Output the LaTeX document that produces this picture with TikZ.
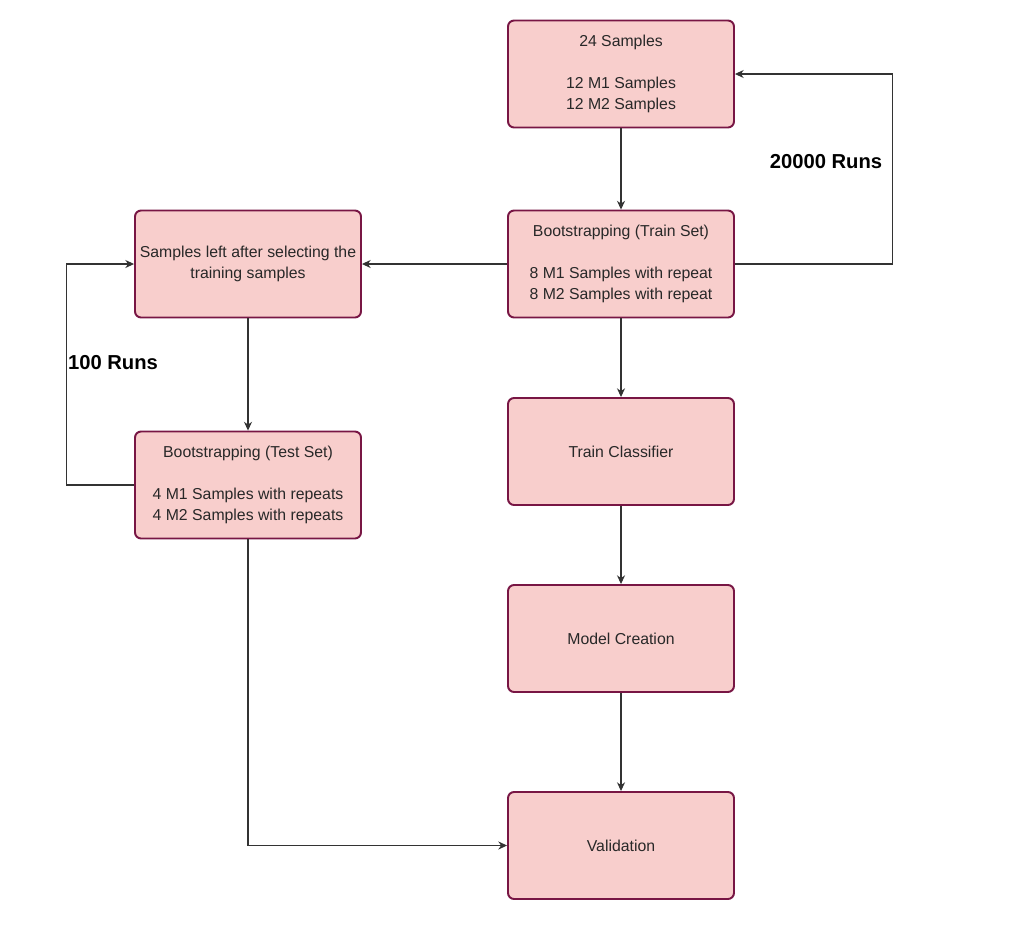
\documentclass[tikz,border=0pt]{standalone}
\usepackage{fontspec}
\setmainfont{Liberation Sans}
\usepackage{tikz}
\usetikzlibrary{arrows.meta}
\definecolor{boxfill}{RGB}{248,206,204}
\definecolor{boxline}{RGB}{120,22,68}
\definecolor{txt}{RGB}{40,40,40}
\tikzset{
 stagebox/.style={draw=boxline, fill=boxfill, line width=1.1pt, rounded corners=0.12cm,
   minimum width=4.52cm, minimum height=2.14cm, inner sep=0pt, align=center,
   text=txt, font=\fontsize{9}{11.9}\selectfont},
 runlabel/.style={font=\fontsize{11.5}{13}\selectfont\bfseries, text=black},
 link/.style={black!80, line width=0.6pt, -{Stealth[length=5pt,width=4.6pt]}}
}

\begin{document}
\begin{tikzpicture}[x=0.02cm, y=-0.02cm]
\useasboundingbox (0,0) rectangle (1011,927);
\node[stagebox] (samples) at (621,74) {24 Samples\\ \\12 M1 Samples\\12 M2 Samples};
\node[stagebox] (trainboot) at (621,264) {Bootstrapping (Train Set)\\ \\8 M1 Samples with repeat\\8 M2 Samples with repeat};
\node[stagebox] (leftover) at (248,264) {Samples left after selecting the\\training samples};
\node[stagebox] (testboot) at (248,485) {Bootstrapping (Test Set)\\ \\4 M1 Samples with repeats\\4 M2 Samples with repeats};
\node[stagebox] (classifier) at (621,451.5) {Train Classifier};
\node[stagebox] (model) at (621,638.5) {Model Creation};
\node[stagebox] (validation) at (621,845.5) {Validation};
\node[runlabel] (outerruns) at (826,162) {20000 Runs};
\node[runlabel] (innerruns) at (113,363) {100 Runs};
% main flow
\draw[link] (samples) -- (trainboot);
\draw[link] (trainboot) -- (classifier);
\draw[link] (classifier) -- (model);
\draw[link] (model) -- (validation);
\draw[link] (trainboot) -- (leftover);
\draw[link] (leftover) -- (testboot);
\draw[link] (testboot.south) |- (validation.west);
% loops
\draw[link] (trainboot.east) -- ++(158,0) |- (samples.east);
\draw[link] (testboot.west) -- ++(-68,0) |- (leftover.west);
\end{tikzpicture}
\end{document}
